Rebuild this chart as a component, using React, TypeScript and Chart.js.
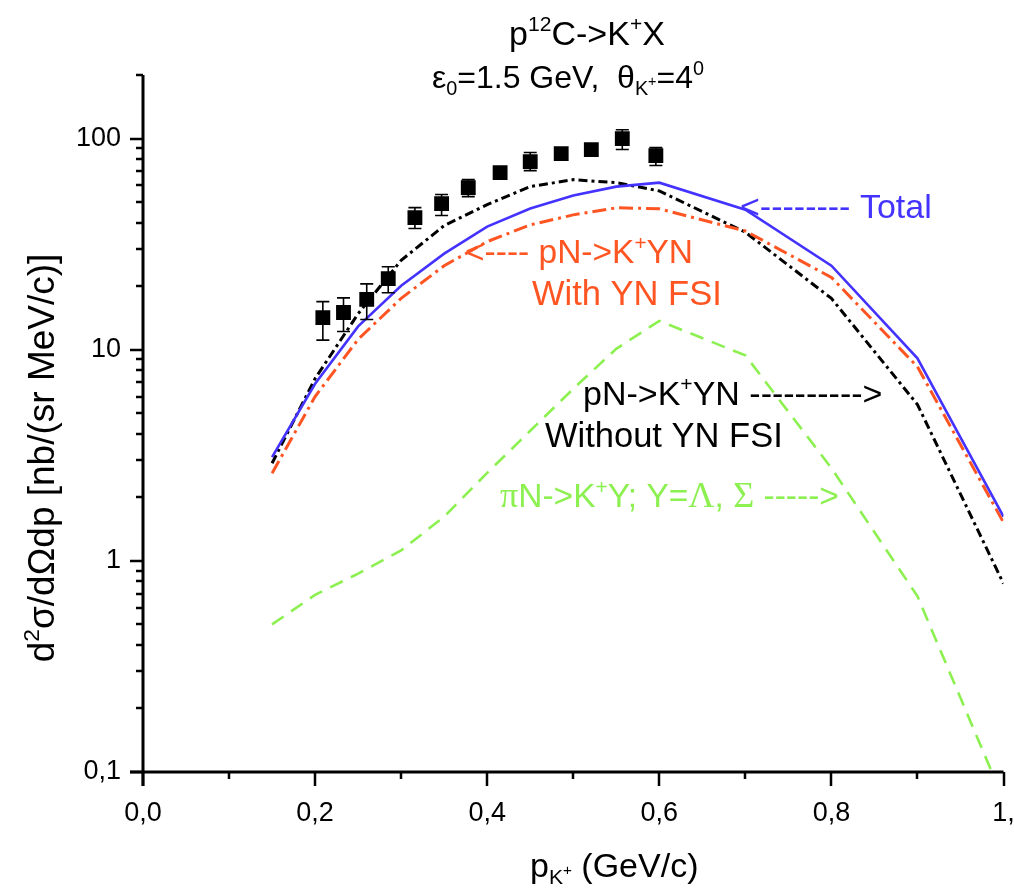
import React, { useEffect, useRef } from 'react';
import { Chart, registerables } from 'chart.js';

Chart.register(...registerables);

// ---------- data ----------
const curveP = [0.15, 0.2, 0.25, 0.3, 0.35, 0.4, 0.45, 0.5, 0.55, 0.6, 0.7, 0.8, 0.9, 1.0];
const totalY = [3.1, 6.9, 12.9, 20.1, 28.5, 38.3, 46.6, 53.7, 59.2, 61.8, 46, 25, 9.1, 1.62];
const withFsiY = [2.6, 6.0, 11.2, 17.5, 25, 32.5, 39, 43.5, 47, 46.5, 36.5, 22, 8.3, 1.52];
const withoutFsiY = [2.9, 7.3, 14.8, 26.5, 38.7, 48.7, 59.2, 63.9, 61.8, 56.5, 36, 17.5, 5.5, 0.78];
const piNY = [0.5, 0.69, 0.87, 1.12, 1.62, 2.61, 4.13, 6.53, 10.1, 13.7, 9.4, 2.75, 0.68, 0.074];

const expP = [0.209, 0.233, 0.26, 0.285, 0.316, 0.347, 0.378, 0.415, 0.45, 0.486, 0.521, 0.557, 0.596];
const expY = [14.2, 15.0, 17.3, 21.7, 42.2, 49.2, 58.6, 69.0, 77.8, 84.9, 88.7, 100, 83.0];
const expLo = [11.1, 12.2, 13.9, 18.6, 37.5, 43.2, 53.1, 65.5, 70.5, 80.5, 84.5, 88.7, 74.5];
const expHi = [16.9, 17.6, 20.5, 24.7, 47.1, 54.3, 63.9, 72.5, 85.9, 89.5, 93, 110, 90.6];

const xTickValues = [0, 0.1, 0.2, 0.3, 0.4, 0.5, 0.6, 0.7, 0.8, 0.9, 1.0];
const xTickLabels = ['0,0', '', '0,2', '', '0,4', '', '0,6', '', '0,8', '', '1,'];
const yTickValues = [
  0.1, 0.2, 0.3, 0.4, 0.5, 0.6, 0.7, 0.8, 0.9,
  1, 2, 3, 4, 5, 6, 7, 8, 9,
  10, 20, 30, 40, 50, 60, 70, 80, 90,
  100, 200,
];
const yMajorValues = [0.1, 1, 10, 100];
const yMajorLabels = ['0,1', '1', '10', '100'];

// ---------- styles ----------
const SANS = '"Liberation Sans", Arial, Helvetica, sans-serif';
const SERIF = '"Liberation Serif", "Times New Roman", serif';
const BLUE = '#4433ff';
const ORANGE = '#ff5522';
const GREEN = '#8cf050';
const BLACK = '#000000';

type Seg = { t: string; k?: 'sup' | 'sub' | 'subsup'; serif?: boolean };

function segFont(seg: Seg, size: number) {
  let s = size;
  if (seg.k === 'sup' || seg.k === 'sub') s = size * 0.62;
  if (seg.k === 'subsup') s = size * 0.45;
  if (seg.serif) s = s * 1.08;
  return `${s}px ${seg.serif ? SERIF : SANS}`;
}
function segDy(seg: Seg, size: number) {
  if (seg.k === 'sup') return -size * 0.4;
  if (seg.k === 'sub') return size * 0.22;
  if (seg.k === 'subsup') return -size * 0.05;
  return 0;
}
function drawRich(ctx: CanvasRenderingContext2D, segs: Seg[], x: number, y: number, size: number, color: string, align: 'left' | 'center') {
  ctx.save();
  ctx.fillStyle = color;
  ctx.textBaseline = 'alphabetic';
  ctx.textAlign = 'left';
  const widths = segs.map((s) => {
    ctx.font = segFont(s, size);
    return ctx.measureText(s.t).width;
  });
  const total = widths.reduce((a, b) => a + b, 0);
  let cx = align === 'center' ? x - total / 2 : x;
  segs.forEach((s, i) => {
    ctx.font = segFont(s, size);
    ctx.fillText(s.t, cx, y + segDy(s, size));
    cx += widths[i];
  });
  ctx.restore();
}

const annotations: { segs: Seg[]; x: number; y: number; size: number; color: string; align: 'left' | 'center' }[] = [
  { segs: [{ t: 'p' }, { t: '12', k: 'sup' }, { t: 'C->K' }, { t: '+', k: 'sup' }, { t: 'X' }], x: 587, y: 45, size: 34, color: BLACK, align: 'center' },
  {
    segs: [{ t: 'ε' }, { t: '0', k: 'sub' }, { t: '=1.5 GeV,  θ' }, { t: 'K', k: 'sub' }, { t: '+', k: 'subsup' }, { t: '=4' }, { t: '0', k: 'sup' }],
    x: 568, y: 88, size: 32, color: BLACK, align: 'center',
  },
  { segs: [{ t: '<-------- Total' }], x: 740, y: 218, size: 34, color: BLUE, align: 'left' },
  { segs: [{ t: '<---- pN->K' }, { t: '+', k: 'sup' }, { t: 'YN' }], x: 465, y: 263, size: 33.5, color: ORANGE, align: 'left' },
  { segs: [{ t: 'With YN FSI' }], x: 532, y: 305, size: 34.5, color: ORANGE, align: 'left' },
  { segs: [{ t: 'pN->K' }, { t: '+', k: 'sup' }, { t: 'YN ---------->' }], x: 583, y: 405, size: 34, color: BLACK, align: 'left' },
  { segs: [{ t: 'Without YN FSI' }], x: 545, y: 447, size: 34.5, color: BLACK, align: 'left' },
  {
    segs: [{ t: 'π', serif: true }, { t: 'N->K' }, { t: '+', k: 'sup' }, { t: 'Y; Y=' }, { t: 'Λ', serif: true }, { t: ', ' }, { t: 'Σ', serif: true }, { t: ' ----->' }],
    x: 500, y: 507, size: 33.5, color: GREEN, align: 'left',
  },
  { segs: [{ t: 'p' }, { t: 'K', k: 'sub' }, { t: '+', k: 'subsup' }, { t: ' (GeV/c)' }], x: 530, y: 877, size: 34, color: BLACK, align: 'left' },
];

const yTitle: Seg[] = [{ t: 'd' }, { t: '2', k: 'sup' }, { t: 'σ/dΩdp [nb/(sr MeV/c)]' }];

const decorPlugin = {
  id: 'decor',
  afterDraw(chart: any) {
    const { ctx, chartArea, scales } = chart;
    const xs = scales.x;
    const ys = scales.y;
    ctx.save();
    ctx.strokeStyle = BLACK;
    ctx.lineCap = 'butt';
    // axis lines
    ctx.lineWidth = 3;
    ctx.beginPath();
    ctx.moveTo(chartArea.left, chartArea.top);
    ctx.lineTo(chartArea.left, chartArea.bottom + 14);
    ctx.moveTo(chartArea.left - 13, chartArea.bottom);
    ctx.lineTo(chartArea.right, chartArea.bottom);
    ctx.stroke();
    // y ticks (outward)
    ctx.lineWidth = 2.5;
    ctx.beginPath();
    yTickValues.forEach((v) => {
      const py = Math.round(ys.getPixelForValue(v));
      const major = yMajorValues.some((m) => Math.abs(m - v) < 1e-9 * Math.max(1, m));
      ctx.moveTo(chartArea.left, py);
      ctx.lineTo(chartArea.left - (major ? 13 : 7), py);
    });
    // x ticks (outward)
    xTickValues.forEach((v, i) => {
      const px = Math.round(xs.getPixelForValue(v));
      const major = xTickLabels[i] !== '';
      ctx.moveTo(px, chartArea.bottom);
      ctx.lineTo(px, chartArea.bottom + (major ? 14 : 7));
    });
    ctx.stroke();
    ctx.restore();

    annotations.forEach((a) => drawRich(ctx, a.segs, a.x, a.y, a.size, a.color, a.align));

    ctx.save();
    ctx.translate(54, 458);
    ctx.rotate(-Math.PI / 2);
    drawRich(ctx, yTitle, 0, 0, 37, BLACK, 'center');
    ctx.restore();
  },
};

const errorBarPlugin = {
  id: 'errorBars',
  afterDatasetsDraw(chart: any) {
    const { ctx, scales } = chart;
    const xs = scales.x;
    const ys = scales.y;
    ctx.save();
    ctx.strokeStyle = BLACK;
    ctx.lineWidth = 1.6;
    ctx.beginPath();
    expP.forEach((p, i) => {
      const px = xs.getPixelForValue(p);
      const lo = ys.getPixelForValue(expLo[i]);
      const hi = ys.getPixelForValue(expHi[i]);
      ctx.moveTo(px, lo);
      ctx.lineTo(px, hi);
      ctx.moveTo(px - 6.5, lo);
      ctx.lineTo(px + 6.5, lo);
      ctx.moveTo(px - 6.5, hi);
      ctx.lineTo(px + 6.5, hi);
    });
    ctx.stroke();
    ctx.restore();
  },
};

function toXY(xs: number[], ys: number[]) {
  return xs.map((x, i) => ({ x, y: ys[i] }));
}

export default function App() {
  const ref = useRef<HTMLCanvasElement | null>(null);
  useEffect(() => {
    if (!ref.current) return;
    const chart = new Chart(ref.current, {
      type: 'line',
      data: {
        datasets: [
          {
            label: 'data',
            data: toXY(expP, expY),
            showLine: false,
            pointStyle: 'rect',
            pointRadius: 10.5,
            pointBackgroundColor: BLACK,
            pointBorderWidth: 0,
            borderColor: BLACK,
            backgroundColor: BLACK,
          },
          {
            label: 'Total',
            data: toXY(curveP, totalY),
            borderColor: BLUE,
            borderWidth: 2.6,
            pointRadius: 0,
            tension: 0,
          },
          {
            label: 'With FSI',
            data: toXY(curveP, withFsiY),
            borderColor: ORANGE,
            borderWidth: 3,
            borderDash: [14, 5, 3, 5],
            pointRadius: 0,
            tension: 0,
          },
          {
            label: 'Without FSI',
            data: toXY(curveP, withoutFsiY),
            borderColor: BLACK,
            borderWidth: 3,
            borderDash: [9, 4, 3, 4],
            pointRadius: 0,
            tension: 0,
          },
          {
            label: 'piN',
            data: toXY(curveP, piNY),
            borderColor: GREEN,
            borderWidth: 2.6,
            borderDash: [14, 9],
            pointRadius: 0,
            tension: 0,
          },
        ],
      },
      options: {
        animation: false,
        responsive: false,
        devicePixelRatio: 1,
        layout: { padding: { top: 75, right: 9, bottom: 0, left: 0 } },
        plugins: { legend: { display: false }, tooltip: { enabled: false }, title: { display: false } },
        scales: {
          x: {
            type: 'linear',
            min: 0,
            max: 1,
            grid: { display: false, drawTicks: false },
            border: { display: false },
            afterBuildTicks: (scale: any) => {
              scale.ticks = xTickValues.map((v) => ({ value: v }));
            },
            afterFit: (scale: any) => {
              scale.height = 122;
              scale.paddingLeft = 0;
              scale.paddingRight = 0;
            },
            ticks: {
              autoSkip: false,
              maxRotation: 0,
              padding: 25,
              color: BLACK,
              font: { family: SANS, size: 27 },
              callback: (_v: any, i: number) => xTickLabels[i] ?? '',
            },
          },
          y: {
            type: 'logarithmic',
            min: 0.1,
            max: 200,
            grid: { display: false, drawTicks: false },
            border: { display: false },
            afterBuildTicks: (scale: any) => {
              scale.ticks = yTickValues.map((v) => ({ value: v }));
            },
            afterFit: (scale: any) => {
              scale.width = 143;
              scale.paddingTop = 0;
              scale.paddingBottom = 0;
            },
            ticks: {
              autoSkip: false,
              padding: 22,
              color: BLACK,
              font: { family: SANS, size: 27 },
              callback: (value: any) => {
                const v = Number(value);
                const i = yMajorValues.findIndex((m) => Math.abs(m - v) < 1e-9 * Math.max(1, m));
                return i >= 0 ? yMajorLabels[i] : '';
              },
            },
          },
        },
      },
      plugins: [errorBarPlugin, decorPlugin],
    } as any);
    return () => chart.destroy();
  }, []);
  return (
    <div style={{ position: 'fixed', left: 0, top: 0, width: 1014, height: 894, background: '#fff' }}>
      <canvas ref={ref} width={1014} height={894} style={{ display: 'block', width: 1014, height: 894 }} />
    </div>
  );
}
